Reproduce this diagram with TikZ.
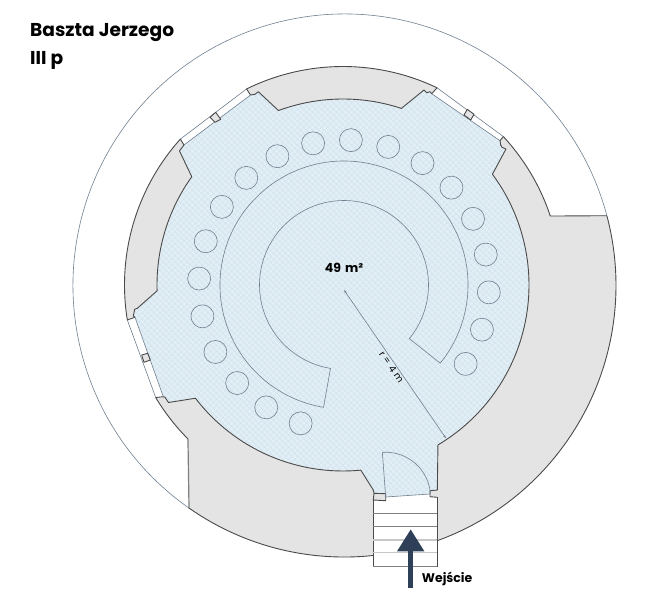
\documentclass[tikz,border=0pt]{standalone}
\usepackage{fontspec}
\setmainfont{Poppins}
\usetikzlibrary{arrows.meta,patterns.meta}
\definecolor{kwallgrey}{HTML}{E4E4E4}
\definecolor{kroomblue}{HTML}{E2EEF5}
\definecolor{khatch}{HTML}{D3E3ED}
\definecolor{kline}{HTML}{6F7F8F}
\definecolor{kdark}{HTML}{4A4A4A}
\definecolor{knavy}{HTML}{2E4058}
\tikzset{
  thinline/.style={draw=kline,line width=.6pt},
  darkline/.style={draw=kdark,line width=.9pt,line join=round},
  seat/.style={thinline},
  pillar/.style={darkline,fill=kwallgrey},
  steplight/.style={draw=black!22,line width=1.4pt},
  titletext/.style={font=\fontsize{18.6}{28}\selectfont\bfseries,align=left,anchor=north west,inner sep=0pt},
  labeltext/.style={font=\fontsize{12.5}{14}\selectfont\bfseries,inner sep=0pt},
}
\begin{document}
\begin{tikzpicture}[x=1pt,y=1pt]
\useasboundingbox(-343,-315)rectangle(315,285);
\pgfmathsetmacro{\krw}{218.5}
\pgfmathsetmacro{\krr}{186}
\pgfmathsetmacro{\krs}{145}
\def\kwall{(263.9,69.3)--(18.4:\krw)arc[start angle=18.4,end angle=42.8,radius=\krw]--(64.5:\krw)arc[start angle=64.5,end angle=116.2,radius=\krw]--(138.1:\krw)arc[start angle=138.1,end angle=189.2,radius=\krw]--(211:\krw)arc[start angle=211,end angle=224.8,radius=\krw]--(-154,-222.7)--([shift={(1.5,-.5)}]234.9:271.5)arc[start angle=234.9,end angle=374.9,radius=271.5]--cycle}
\def\kroomA{(-92.5,190)--(-88,190.7)--(-84.7,193.3)--(110.3:\krr)arc[start angle=110.3,end angle=71.7,radius=\krr]--(81,195)--(83.7,192.3)--(87,193.3)--(88.7,191.3)}
\def\kroomB{(157,144.3)--(157.7,140)--(159,137.7)--(163,136)--(36.55:\krr)arc[start angle=36.55,end angle=-59.3,radius=\krr]--(94.3,-205)--(87,-205.7)--(87,-209)}
\def\kroomC{(42.7,-212)--(42.7,-208.7)--(31,-208.3)--(30.3,-205)--(-84.5:\krr)arc[start angle=-84.5,end angle=-142.5,radius=\krr]--(-174.5,-117.5)--(-178,-112.3)--(-179.7,-111.7)}
\def\kroomD{(-208,-32.3)--(-209.7,-31)--(-208.3,-24.3)--(-205.7,-23.3)--(181.8:\krr)arc[start angle=181.8,end angle=144.4,radius=\krr]--(-163.5,134)--(-159,140)}
\path[fill=kwallgrey]\kwall;
\draw[thinline]([shift={(1.5,-.5)}]14.9:271.5)arc[start angle=14.9,end angle=234.9,radius=271.5];
\path[fill=kroomblue]\kroomA--\kroomB--\kroomC--\kroomD--cycle;
\path[pattern={Hatch[angle=45,distance=4pt,line width=.5pt]},pattern color=khatch]\kroomA--\kroomB--\kroomC--\kroomD--cycle;
\coordinate(w1a)at(116.2:\krw);
\coordinate(w1b)at(138.1:\krw);
\coordinate(w1c)at(-159,140);
\coordinate(w1d)at(-92.5,190);
\coordinate(w2a)at(64.5:\krw);
\coordinate(w2b)at(42.8:\krw);
\coordinate(w2c)at(157,144.3);
\coordinate(w2d)at(88.7,191.3);
\coordinate(w3a)at(189.2:\krw);
\coordinate(w3b)at(211:\krw);
\coordinate(w3c)at(-179.7,-111.7);
\coordinate(w3d)at(-208,-32.3);
\foreach \kw in {1,2,3}{\path[fill=white](w\kw a)--(w\kw b)--(w\kw c)--(w\kw d)--cycle;
\draw[thinline](w\kw a)--(w\kw b)(w\kw c)--(w\kw d);
\draw[darkline](w\kw b)--(w\kw c)(w\kw d)--(w\kw a);}
\foreach \ka/\kb/\kc/\kd in {{-133,167.7}/{-127.3,172.7}/{-122.3,165.7}/{-128,162.7},{124.3,175.7}/{131,170.7}/{127.7,165}/{121,170},{-201.3,-70}/{-195.3,-68.3}/{-192.7,-75}/{-199,-77.3}}{\draw[pillar](\ka)--(\kb)--(\kc)--(\kd)--cycle;}
\draw[darkline](263.9,69.3)--(18.4:\krw)arc[start angle=18.4,end angle=42.8,radius=\krw];
\draw[darkline](64.5:\krw)arc[start angle=64.5,end angle=116.2,radius=\krw];
\draw[darkline](138.1:\krw)arc[start angle=138.1,end angle=189.2,radius=\krw];
\draw[darkline](211:\krw)arc[start angle=211,end angle=224.8,radius=\krw];
\draw[draw=black!50,line width=1.2pt](224.8:\krw)--(-154,-222.7);
\draw[darkline]([shift={(1.5,-.5)}]234.9:271.5)arc[start angle=234.9,end angle=374.9,radius=271.5];
\foreach \kseg in {\kroomA,\kroomB,\kroomC,\kroomD}{\draw[darkline]\kseg;}
\path[fill=white](31,-215)--(42.7,-215.7)--(42.7,-212)--(87,-209)--(87,-211.7)--(94.3,-212.3)--(94.3,-281.7)--(30.3,-281.7)--cycle;
\draw[darkline](31,-208.3)--(30.3,-215)--(42.7,-215.7)--(42.7,-212);
\draw[darkline](87,-209)--(87,-211.7)--(94.3,-212.3);
\draw[thinline](42.7,-212)--(87,-209);
\draw[thinline]([shift={(42.7,-212)}]94.3:44.8)arc[start angle=94.3,end angle=3.9,radius=44.8]([shift={(42.7,-212)}]94.3:44.8)--(42.7,-212);
\draw[draw=kdark,line width=.7pt](30.3,-215)--(30.3,-281.7)(94.3,-212.3)--(94.3,-281.7);
\foreach \ky in {-228,-241.7,-281.7}{\draw[draw=black!50,line width=.7pt](30.3,\ky)--(94.3,\ky);}
\foreach \ky in {-255,-267.7}{\draw[steplight](30.3,\ky)--(94.3,\ky);}
\begin{scope}[shift={(1,0)}]
\foreach \k in {0,...,19}{\draw[seat]({252.6-15.03*\k}:\krs)circle(11.5);}
\draw[thinline](260.5:124)arc[start angle=260.5,end angle=-39.1,radius=124]--(-39.4:84.5)arc[start angle=-39.4,end angle=260.8,radius=84.5]--cycle;
\end{scope}
\coordinate(rstart)at(1,-5);
\coordinate(rend)at(103,-153.3);
\draw[thinline,{Stealth[length=3.5pt,width=2.2pt]}-{Stealth[length=3.5pt,width=2.2pt]}](rstart)--(rend);
\node[labeltext](area)at(1,17.5){49\,\,m²};
\node[font=\fontsize{9.5}{11}\selectfont,inner sep=0pt,rotate=-55.5](rlabel)at(48.5,-82){r\,\,=\,\,4\,\,m};
\coordinate(astart)at(67.7,-303);
\coordinate(atip)at(67.7,-244.3);
\draw[draw=knavy,line width=4.7pt,-{Triangle[length=22pt,width=26pt]}](astart)--(atip);
\node[labeltext,anchor=west](entry)at(78.7,-294){Wejście};
\node[titletext](title)at(-313,262){Baszta Jerzego\\III p};
\end{tikzpicture}
\end{document}
